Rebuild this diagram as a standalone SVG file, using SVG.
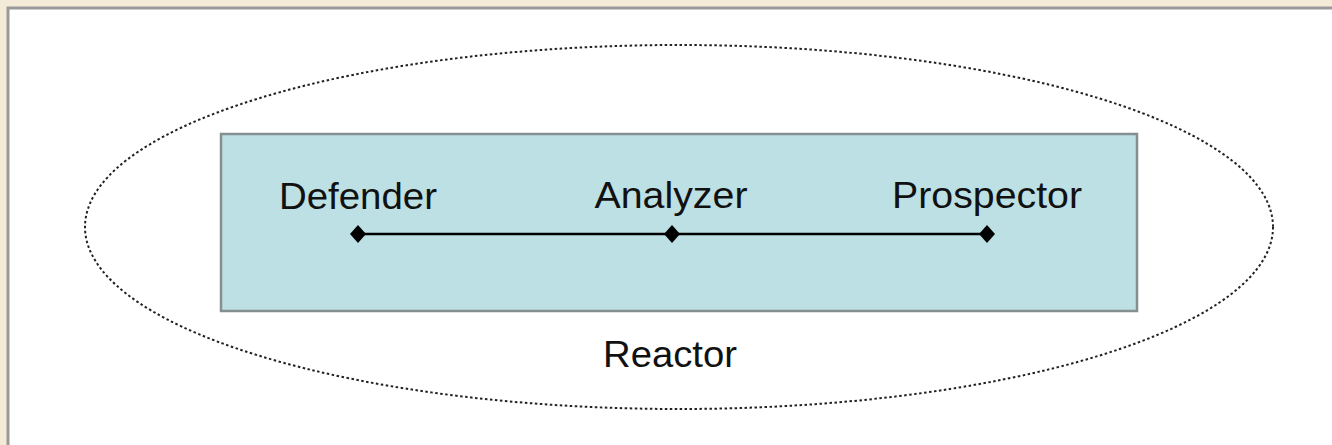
<svg xmlns="http://www.w3.org/2000/svg" width="1332" height="445" viewBox="0 0 1332 445">
  <style>
    .label { font-family: "Liberation Sans", Arial, sans-serif; font-size: 37px; fill: #111; text-anchor: middle; }
    .boundary { fill: none; stroke: #222; stroke-width: 2; stroke-dasharray: 2.5 2.5; }
    .band { fill: #bce0e3; stroke: #858f8f; stroke-width: 2.5; }
    .axis { stroke: #000; stroke-width: 2.5; }
    .pt { fill: #000; }
  </style>
  <defs>
    <path id="diamond" d="M0,-9 L8,0 L0,9 L-8,0 Z"/>
  </defs>

  <!-- page backdrop and white panel -->
  <rect x="0" y="0" width="1332" height="445" fill="#f3ebd7"/>
  <rect x="7" y="7" width="1325" height="438" fill="#ffffff"/>
  <path d="M8,445 L8,8 L1332,8" fill="none" stroke="#999" stroke-width="3"/>

  <!-- outer dotted boundary -->
  <g id="reactor">
    <ellipse class="boundary" cx="679" cy="227" rx="594" ry="182"/>
    <text class="label" x="670" y="367" textLength="134" lengthAdjust="spacingAndGlyphs">Reactor</text>
  </g>

  <!-- inner strategy band -->
  <g id="band">
    <rect class="band" x="221" y="134" width="916" height="177"/>
  </g>

  <!-- continuum line -->
  <g id="connectors">
    <line class="axis" x1="358" y1="234" x2="987" y2="234"/>
  </g>

  <g id="defender">
    <use href="#diamond" class="pt" x="358" y="234"/>
    <text class="label" x="358" y="209" textLength="158" lengthAdjust="spacingAndGlyphs">Defender</text>
  </g>

  <g id="analyzer">
    <use href="#diamond" class="pt" x="672" y="234"/>
    <text class="label" x="671" y="208" textLength="153" lengthAdjust="spacingAndGlyphs">Analyzer</text>
  </g>

  <g id="prospector">
    <use href="#diamond" class="pt" x="987" y="234"/>
    <text class="label" x="987" y="208" textLength="190" lengthAdjust="spacingAndGlyphs">Prospector</text>
  </g>
</svg>
